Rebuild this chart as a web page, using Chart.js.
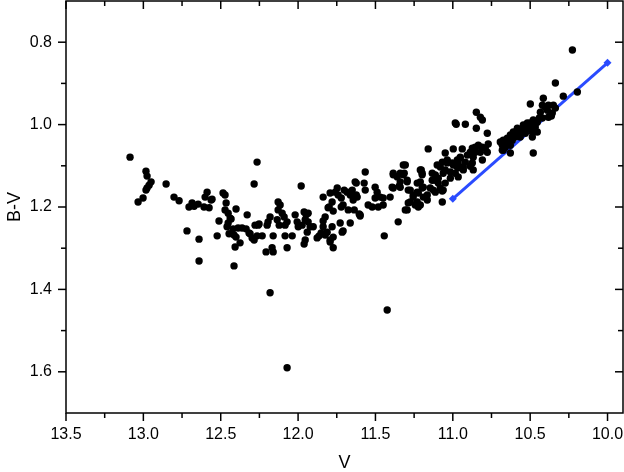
<!DOCTYPE html>
<html>
<head>
<meta charset="utf-8">
<script src="https://cdn.jsdelivr.net/npm/chart.js@4.4.1/dist/chart.umd.min.js"></script>
<style>
html,body{margin:0;padding:0;background:#fff;}
#wrap{width:624px;height:472px;}
</style>
</head>
<body>
<div id="wrap"><canvas id="grafico" width="624" height="472"></canvas></div>
<script>
// V magnitudes and B-V colours of the stars
const vMag = [
13.086,12.983,12.976,12.950,12.963,12.976,12.983,13.002,13.034,12.853,
12.802,12.769,12.705,12.685,12.672,12.646,12.608,12.588,12.601,12.562,
12.575,12.485,12.472,12.465,12.472,12.452,12.401,12.439,12.452,12.511,
12.459,12.446,12.414,12.388,12.401,12.375,12.407,12.329,12.336,12.310,
12.297,12.284,12.258,12.265,12.284,12.718,12.640,12.523,12.640,12.414,
12.433,12.420,12.362,12.265,12.317,12.556,12.278,12.129,12.116,12.129,
12.103,12.090,12.181,12.194,12.252,12.200,12.135,12.122,12.084,12.071,
12.019,12.006,11.999,11.980,12.232,12.161,12.084,12.038,12.207,12.168,
12.161,12.071,12.181,12.071,11.961,11.948,11.935,11.954,11.935,11.922,
11.902,11.974,11.941,11.954,11.961,11.877,11.851,11.825,11.838,11.806,
11.838,11.793,11.780,11.747,11.741,11.721,11.709,11.683,11.663,11.650,
11.631,11.618,11.676,11.637,11.605,11.728,11.663,11.715,11.780,11.812,
11.825,11.793,11.773,11.760,11.702,11.624,11.644,11.799,11.773,11.721,
11.864,11.773,11.793,11.709,11.599,11.838,11.566,11.573,11.624,11.566,
11.502,11.489,11.469,11.502,11.450,11.405,11.482,11.450,11.521,11.547,
11.392,11.359,11.385,11.320,11.314,11.295,11.275,11.346,11.204,11.198,
11.230,11.198,11.256,11.191,11.275,11.295,11.353,11.443,11.424,11.159,
11.049,11.101,11.133,11.113,11.094,11.146,11.165,11.062,11.068,11.036,
11.126,11.230,11.340,11.320,11.385,11.340,11.295,11.385,11.340,11.288,
11.210,11.230,11.191,11.210,11.198,11.210,11.081,11.049,11.016,10.984,
10.965,11.113,11.094,11.133,11.081,11.049,11.016,11.113,11.165,11.256,
11.223,11.243,11.223,11.307,11.068,11.288,11.307,11.599,11.068,11.036,
11.004,10.971,10.997,10.978,10.919,10.848,10.822,10.809,10.848,10.777,
10.771,10.790,10.809,10.835,10.855,10.874,10.822,10.777,10.855,10.887,
10.906,10.868,10.809,10.939,10.952,10.919,10.965,10.874,10.868,10.932,
10.965,10.997,11.062,10.984,10.952,10.971,10.932,10.887,10.337,10.286,
10.195,10.499,10.415,10.402,10.421,10.382,10.350,10.434,10.389,10.357,
10.337,10.441,10.382,10.480,10.454,10.486,10.467,10.518,10.544,10.512,
10.551,10.531,10.577,10.583,10.609,10.564,10.596,10.628,10.648,10.615,
10.674,10.648,10.680,10.628,10.486,10.454,10.486,10.674,10.628,10.480,
10.693,10.227,10.363,10.421,10.499,10.661,10.680
];
const bvColor = [
1.079,1.113,1.125,1.139,1.147,1.154,1.159,1.178,1.188,1.144,
1.176,1.185,1.200,1.190,1.198,1.193,1.200,1.164,1.176,1.183,
1.202,1.166,1.171,1.190,1.207,1.215,1.205,1.227,1.239,1.234,
1.248,1.265,1.268,1.251,1.273,1.287,1.297,1.219,1.253,1.265,
1.275,1.280,1.244,1.091,1.144,1.258,1.278,1.270,1.331,1.343,
1.229,1.253,1.251,1.270,1.263,1.181,1.244,1.188,1.195,1.207,
1.215,1.224,1.224,1.236,1.241,1.244,1.231,1.244,1.244,1.236,
1.219,1.236,1.248,1.149,1.270,1.270,1.270,1.270,1.309,1.299,
1.309,1.299,1.408,1.590,1.212,1.219,1.215,1.231,1.236,1.248,
1.248,1.244,1.261,1.280,1.290,1.275,1.263,1.224,1.234,1.202,
1.176,1.166,1.188,1.154,1.171,1.178,1.195,1.164,1.171,1.159,
1.139,1.176,1.207,1.207,1.217,1.239,1.239,1.261,1.248,1.261,
1.268,1.280,1.299,1.164,1.159,1.171,1.183,1.200,1.210,1.200,
1.270,1.273,1.285,1.258,1.222,1.248,1.115,1.142,1.142,1.159,
1.152,1.164,1.176,1.178,1.178,1.176,1.200,1.195,1.200,1.195,
1.152,1.127,1.118,1.098,1.118,1.135,1.159,1.149,1.110,1.118,
1.142,1.154,1.171,1.176,1.188,1.207,1.236,1.270,1.450,1.059,
1.069,1.098,1.118,1.135,1.142,1.154,1.183,1.159,1.188,1.093,
1.159,1.188,1.118,1.122,1.122,1.139,1.139,1.154,1.152,1.159,
1.195,1.164,1.152,1.139,1.122,1.110,1.103,1.110,1.115,1.118,
1.127,1.122,1.130,1.135,1.154,1.142,1.130,1.164,1.171,1.176,
1.166,1.195,1.200,1.207,1.161,1.190,1.098,1.219,1.091,1.086,
1.093,1.086,1.059,0.999,0.999,0.970,0.982,0.989,1.009,1.021,
1.047,1.057,1.055,1.050,1.055,1.057,1.067,1.067,1.067,1.067,
1.074,1.079,1.086,1.059,1.081,1.091,1.093,1.093,1.110,1.110,
1.105,1.098,1.118,0.996,1.079,1.103,1.103,1.101,0.899,0.931,
0.921,0.950,0.936,0.958,0.953,0.953,0.953,0.970,0.965,0.972,
0.960,0.984,0.982,0.989,0.994,1.001,1.006,0.996,1.001,1.009,
1.013,1.021,1.021,1.009,1.018,1.030,1.030,1.025,1.033,1.038,
1.038,1.045,1.050,1.050,1.030,1.018,1.018,1.062,1.069,1.069,
1.042,0.819,0.979,0.984,0.996,1.055,1.062
];

// blue line
const fitV = [11.0, 10.0];
const fitBV = [1.18, 0.85];

const xTicks = [13.5, 13.0, 12.5, 12.0, 11.5, 11.0, 10.5, 10.0];
const xMinor = [13.25, 12.75, 12.25, 11.75, 11.25, 10.75, 10.25];
const yTicks = [0.8, 1.0, 1.2, 1.4, 1.6];
const yMinor = [0.9, 1.1, 1.3, 1.5];

let puntos = [];
for(let i=0;i<vMag.length;i++){
  puntos.push({x: vMag[i], y: bvColor[i]});
}
let linea = fitV.map((v,i)=>({x: v, y: fitBV[i]}));

const fuente = "'Liberation Sans', Arial, sans-serif";

// frame with ticks on all four sides
const marco = {
  id: 'marco',
  afterDatasetsDraw(chart){
    const ctx = chart.ctx;
    const a = chart.chartArea;
    const sx = chart.scales.x, sy = chart.scales.y;
    ctx.save();
    ctx.strokeStyle = '#000';
    ctx.lineWidth = 1.5;
    ctx.strokeRect(a.left, a.top, a.right-a.left, a.bottom-a.top);
    function marca(x1,y1,x2,y2){
      ctx.beginPath(); ctx.moveTo(x1,y1); ctx.lineTo(x2,y2); ctx.stroke();
    }
    xTicks.forEach(v=>{
      const p = sx.getPixelForValue(v);
      marca(p, a.bottom, p, a.bottom+8);
      marca(p, a.top, p, a.top+8);
    });
    xMinor.forEach(v=>{
      const p = sx.getPixelForValue(v);
      marca(p, a.bottom, p, a.bottom+5);
      marca(p, a.top, p, a.top+5);
    });
    yTicks.forEach(v=>{
      const p = sy.getPixelForValue(v);
      marca(a.left-8, p, a.left, p);
      marca(a.right-8, p, a.right, p);
    });
    yMinor.forEach(v=>{
      const p = sy.getPixelForValue(v);
      marca(a.left-5, p, a.left, p);
      marca(a.right-5, p, a.right, p);
    });
    ctx.restore();
  }
};

function sinRelleno(s){
  s.paddingTop = 0; s.paddingBottom = 0;
  s.paddingLeft = 0; s.paddingRight = 0;
}

const ctx = document.getElementById("grafico");

let grafico = new Chart(ctx, {
  type: "scatter",
  data: {
    datasets: [
      {
        label: "estrellas",
        data: puntos,
        backgroundColor: "#000",
        borderColor: "#000",
        borderWidth: 0,
        pointRadius: 3.7,
        pointHoverRadius: 3.7
      },
      {
        label: "ajuste",
        data: linea,
        showLine: true,
        borderColor: "#2a4bff",
        backgroundColor: "#2a4bff",
        borderWidth: 3,
        pointStyle: "rectRot",
        pointRadius: 4,
        pointBorderWidth: 0
      }
    ]
  },
  options: {
    responsive: false,
    animation: false,
    devicePixelRatio: 1,
    layout: { autoPadding: false, padding: { top: 1, right: 1, left: 0, bottom: 0 } },
    plugins: { legend: { display: false }, tooltip: { enabled: false } },
    scales: {
      x: {
        type: "linear",
        position: "bottom",
        min: 9.9,
        max: 13.5,
        reverse: true,
        grid: { display: false, drawTicks: false },
        border: { display: false },
        afterBuildTicks: s => { s.ticks = xTicks.map(v=>({value: v})); },
        afterFit: s => { s.height = 59; sinRelleno(s); },
        ticks: {
          color: "#000",
          font: { family: fuente, size: 16 },
          padding: 12,
          maxRotation: 0,
          autoSkip: false,
          callback: v => Number(v).toFixed(1)
        },
        title: {
          display: true,
          text: "V",
          color: "#000",
          font: { family: fuente, size: 18 },
          padding: { top: 0, bottom: -2 }
        }
      },
      y: {
        type: "linear",
        position: "left",
        min: 0.7,
        max: 1.7,
        reverse: true,
        grid: { display: false, drawTicks: false },
        border: { display: false },
        afterBuildTicks: s => { s.ticks = yTicks.map(v=>({value: v})); },
        afterFit: s => { s.width = 66; sinRelleno(s); },
        ticks: {
          color: "#000",
          font: { family: fuente, size: 16 },
          padding: 14,
          autoSkip: false,
          callback: v => Number(v).toFixed(1)
        },
        title: {
          display: true,
          text: "B-V",
          color: "#000",
          font: { family: fuente, size: 18 },
          padding: { top: 4, bottom: 0 }
        }
      }
    }
  },
  plugins: [marco]
});
</script>
</body>
</html>
